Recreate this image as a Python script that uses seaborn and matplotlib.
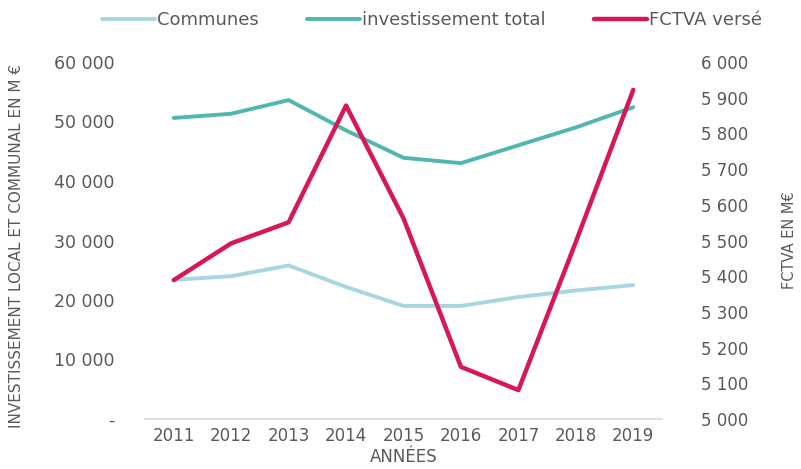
import matplotlib
matplotlib.use("Agg")
import matplotlib.pyplot as plt
import matplotlib.ticker as mticker
import seaborn as sns
import pandas as pd

# Data (M€)
years = [2011, 2012, 2013, 2014, 2015, 2016, 2017, 2018, 2019]
communes = [23400, 24000, 25800, 22200, 19000, 19000, 20500, 21600, 22500]
invest_total = [50600, 51300, 53600, 48500, 43900, 43000, 46000, 49000, 52400]
fctva = [5389, 5492, 5551, 5878, 5562, 5146, 5081, 5496, 5922]

labels = ["Communes", "investissement total", "FCTVA versé"]
colors = ["#a7d6e0", "#4fb7ae", "#d6175a"]
text_color = "#595959"
axis_color = "#d9d9d9"

df = pd.DataFrame({"year": years, "communes": communes,
                   "total": invest_total, "fctva": fctva})

sns.set_theme(style="white")
plt.rcParams["font.family"] = ["DejaVu Sans"]

fig = plt.figure(figsize=(8.01, 4.69), dpi=100)
ax = fig.add_axes([145 / 801, 1 - 419 / 469, 517 / 801, 357 / 469])
ax2 = ax.twinx()

sns.lineplot(data=df, x="year", y="communes", ax=ax, color=colors[0],
             linewidth=2.8, label=labels[0], legend=False)
sns.lineplot(data=df, x="year", y="total", ax=ax, color=colors[1],
             linewidth=2.8, label=labels[1], legend=False)
sns.lineplot(data=df, x="year", y="fctva", ax=ax2, color=colors[2],
             linewidth=3.2, label=labels[2], legend=False)

ax.set_xlim(2010.5, 2019.5)
ax.set_ylim(0, 60000)
ax2.set_ylim(5000, 6000)


def fmt_thousands(v, _pos):
    if v == 0:
        return "-"
    return f"{int(round(v)):,}".replace(",", " ")


ax.yaxis.set_major_locator(mticker.MultipleLocator(10000))
ax.yaxis.set_major_formatter(mticker.FuncFormatter(fmt_thousands))
ax2.yaxis.set_major_locator(mticker.MultipleLocator(100))
ax2.yaxis.set_major_formatter(mticker.FuncFormatter(fmt_thousands))

ax.set_xticks(years)
ax.set_xticklabels([str(y) for y in years])
ax.xaxis.set_minor_locator(mticker.FixedLocator([y + 0.5 for y in [2010] + years]))

for a in (ax, ax2):
    for s in a.spines.values():
        s.set_visible(False)
    a.grid(False)
ax.spines["bottom"].set_visible(True)
ax.spines["bottom"].set_color(axis_color)
ax.spines["bottom"].set_linewidth(1.2)

ax.tick_params(axis="x", which="major", length=0, pad=6, labelsize=12,
               labelcolor=text_color)
ax.tick_params(axis="x", which="minor", length=4, width=1, color=axis_color,
               direction="in")
ax.tick_params(axis="y", length=0, pad=22, labelsize=12.5, labelcolor=text_color)
ax2.tick_params(axis="y", length=0, pad=28, labelsize=12, labelcolor=text_color)

ax.set_xlabel("ANNÉES", fontsize=12, color=text_color, labelpad=2)
ax.set_ylabel("")
ax2.set_ylabel("")

# Axis titles placed in figure coordinates
fig.text(17 / 801, 1 - 246 / 469, "INVESTISSEMENT LOCAL ET COMMUNAL EN M €",
         rotation=90, ha="center", va="center", fontsize=11, color=text_color)
fig.text(790 / 801, 1 - 240 / 469, "FCTVA EN M€", rotation=90,
         ha="center", va="center", fontsize=10.5, color=text_color)

handles = ax.get_lines()[:2] + ax2.get_lines()[:1]
fig.legend(handles, labels, loc="center", bbox_to_anchor=(432 / 801, 1 - 20 / 469),
           ncol=3, frameon=False, fontsize=13, handlelength=2.9,
           handletextpad=0.12, columnspacing=2.7, labelcolor=text_color)

fig.savefig("out.png", dpi=100)
